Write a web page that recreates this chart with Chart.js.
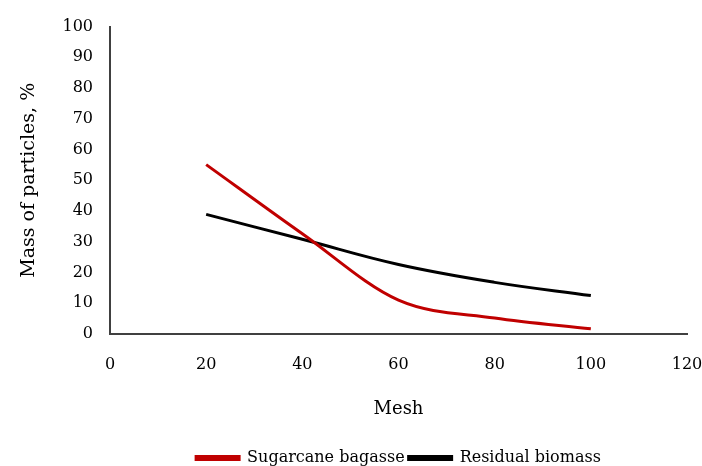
<!DOCTYPE html>
<html>
<head>
<meta charset="utf-8">
<script src="https://cdn.jsdelivr.net/npm/chart.js@4/dist/chart.umd.min.js"></script>
<style>
  html, body { margin: 0; padding: 0; background: #fff; }
  #wrap { width: 702px; height: 466px; position: relative; }
</style>
</head>
<body>
<div id="wrap"><canvas id="meshChart"></canvas></div>
<script>
// data
const meshValues = [20, 40, 60, 80, 100];
const sugarcaneBagasse = [55.1, 32.6, 11, 5.2, 1.7];
const residualBiomass = [38.9, 30.8, 22.6, 16.8, 12.5];
const xTicks = [0, 20, 40, 60, 80, 100, 120];
const yTicks = [0, 10, 20, 30, 40, 50, 60, 70, 80, 90, 100];

const FONT = "'DejaVu Serif', 'Liberation Serif', serif";
const TXT = '#000';

function toPoints(xs, ys) {
    return xs.map((x, i) => ({ x: x, y: ys[i] }));
}

document.addEventListener("DOMContentLoaded", function() {
    const ctx = document.getElementById('meshChart').getContext('2d');

    new Chart(ctx, {
        type: 'line',
        data: {
            datasets: [
                {
                    label: 'Sugarcane bagasse',
                    data: toPoints(meshValues, sugarcaneBagasse),
                    borderColor: '#c00000',
                    backgroundColor: '#c00000',
                    borderWidth: 3,
                    pointRadius: 0,
                    cubicInterpolationMode: 'monotone'
                },
                {
                    label: 'Residual biomass',
                    data: toPoints(meshValues, residualBiomass),
                    borderColor: '#000000',
                    backgroundColor: '#000000',
                    borderWidth: 3,
                    pointRadius: 0,
                    tension: 0.4
                }
            ]
        },
        options: {
            responsive: true,
            maintainAspectRatio: false,
            animation: false,
            layout: { padding: { top: 14, right: 0, left: 0, bottom: -10 } },
            plugins: {
                tooltip: { enabled: false },
                legend: {
                    position: 'bottom',
                    fullSize: false,
                    labels: {
                        color: TXT,
                        font: { family: FONT, size: 16 },
                        boxWidth: 43,
                        boxHeight: 3,
                        padding: 4
                    }
                }
            },
            scales: {
                x: {
                    type: 'linear',
                    min: 0, max: 120,
                    afterBuildTicks: s => { s.ticks = xTicks.map(v => ({ value: v })); },
                    grid: { display: false, drawTicks: false },
                    border: { display: true, color: '#404040', width: 2 },
                    ticks: { color: TXT, font: { family: FONT, size: 16 }, padding: 21, maxRotation: 0 },
                    title: { display: true, text: 'Mesh', color: TXT, font: { family: FONT, size: 18 }, padding: { top: 24, bottom: 26 } },
                    // tick padding also widens the side padding; keep only half the last label
                    afterFit: s => { s.height = 112; s.paddingRight = 15; s.paddingLeft = 0; }
                },
                y: {
                    type: 'linear',
                    min: 0, max: 100,
                    afterBuildTicks: s => { s.ticks = yTicks.map(v => ({ value: v })); },
                    grid: { display: false, drawTicks: false },
                    border: { display: true, color: '#404040', width: 2 },
                    ticks: { color: TXT, font: { family: FONT, size: 16 }, padding: 17 },
                    title: { display: true, text: 'Mass of particles, %', color: TXT, font: { family: FONT, size: 19 }, padding: { top: 18, bottom: 10 } },
                    afterFit: s => { s.width = 110; }
                }
            }
        }
    });
});
</script>
</body>
</html>
